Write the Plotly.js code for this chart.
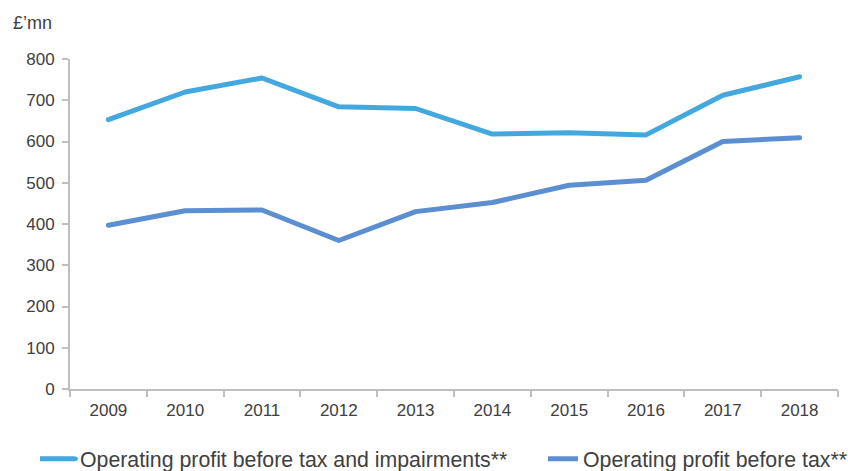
<!DOCTYPE html>
<html>
<head>
<meta charset="utf-8">
<script src="https://cdn.plot.ly/plotly-3.0.1.min.js"></script>
<style>html,body{margin:0;padding:0;background:#fff;}#chart{width:848px;height:471px;}
.scatterlayer .js-line{stroke-linecap:round !important;stroke-linejoin:round !important;}
.legend .traces path[d^="M5,0h30"]{stroke-linecap:round !important;transform-box:view-box;transform-origin:0 0;transform:translateX(-22px) scaleX(1.6);}</style>
</head>
<body>
<div id="chart"></div>
<script>
const years = ['2009','2010','2011','2012','2013','2014','2015','2016','2017','2018'];
const profitBeforeTaxAndImpairments = [653, 720, 754, 684, 680, 618, 621, 616, 712, 757];
const profitBeforeTax = [397, 432, 434, 360, 430, 452, 494, 506, 600, 609];
const seriesNames = ['Operating profit before tax and impairments**', 'Operating profit before tax**'];
const yTicks = [0, 100, 200, 300, 400, 500, 600, 700, 800];

const font = {family: 'Liberation Sans, Arial, sans-serif', color: '#404040'};

const traces = [
  {x: years, y: profitBeforeTaxAndImpairments, name: seriesNames[0], type: 'scatter', mode: 'lines',
   line: {color: '#44A8E0', width: 5}, legend: 'legend'},
  {x: years, y: profitBeforeTax, name: seriesNames[1], type: 'scatter', mode: 'lines',
   line: {color: '#5B8FD1', width: 5}, legend: 'legend2'}
];

const legendBase = {orientation: 'h', xref: 'container', yref: 'container', xanchor: 'left', y: 12 / 471, yanchor: 'middle',
                    bgcolor: 'rgba(0,0,0,0)', font: Object.assign({size: 21.3}, font)};

const layout = {
  width: 848, height: 471,
  margin: {l: 70, r: 10, t: 59, b: 82},
  paper_bgcolor: '#fff', plot_bgcolor: '#fff',
  font: Object.assign({size: 17}, font),
  showlegend: true,
  legend: Object.assign({x: 40 / 848}, legendBase),
  legend2: Object.assign({x: 543 / 848}, legendBase),
  xaxis: {type: 'category', range: [-0.5, 9.5], showgrid: false, showline: true, linecolor: '#BFBFBF', linewidth: 2,
          ticks: 'outside', tickson: 'boundaries', ticklen: 6, tickcolor: '#BFBFBF', tickwidth: 2, ticklabelstandoff: 5,
          tickfont: Object.assign({size: 17}, font), zeroline: false, automargin: false},
  yaxis: {range: [0, 800], tickvals: yTicks, showgrid: false, showline: true, linecolor: '#BFBFBF', linewidth: 2,
          ticks: 'outside', ticklen: 6, tickcolor: '#BFBFBF', tickwidth: 2, zeroline: false, automargin: false,
          ticklabelstandoff: 4, tickfont: Object.assign({size: 17}, font)},
  annotations: [{text: '£’mn', xref: 'paper', yref: 'paper', x: -0.077, y: 1.11, xanchor: 'left', yanchor: 'middle',
                 showarrow: false, font: Object.assign({size: 18}, font)}]
};

Plotly.newPlot('chart', traces, layout, {displayModeBar: false, staticPlot: true});
</script>
</body>
</html>
